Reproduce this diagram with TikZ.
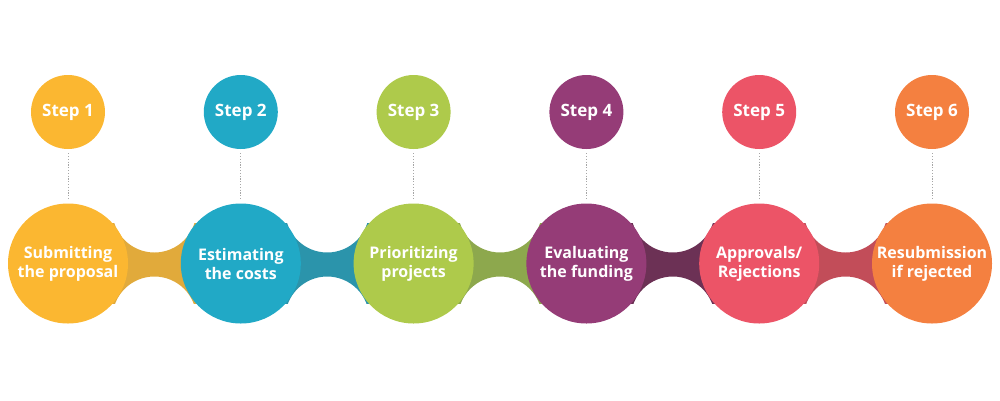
\documentclass[tikz,border=0pt]{standalone}
\usepackage{fontspec}
\setmainfont{Open Sans}
\definecolor{cA}{HTML}{FBB731}\definecolor{kA}{HTML}{E1AA3B}
\definecolor{cB}{HTML}{21A9C6}\definecolor{kB}{HTML}{2B94AB}
\definecolor{cC}{HTML}{AECA4B}\definecolor{kC}{HTML}{8DA84D}
\definecolor{cD}{HTML}{953C77}\definecolor{kD}{HTML}{6C3155}
\definecolor{cE}{HTML}{EC5467}\definecolor{kE}{HTML}{C24D59}
\definecolor{cF}{HTML}{F48040}
\tikzset{
  bigcirc/.style={circle,minimum size=120pt,inner sep=0pt,text=white,align=center,
    font=\fontsize{16}{19}\selectfont\bfseries},
  stepcirc/.style={circle,minimum size=74pt,inner sep=0pt,text=white,
    font=\fontsize{17}{20}\selectfont\bfseries},
  dotline/.style={draw=gray!70,line width=0.9pt,dash pattern=on 1.2pt off 1.6pt}
}
\begin{document}
\begin{tikzpicture}[x=1pt,y=-1pt]
\useasboundingbox (0,0) rectangle (1000,400);
\def\cy{263.5}
% connectors (bands with concave sides)
\foreach \i/\col in {0/kA,1/kB,2/kC,3/kD,4/kE}{
  \pgfmathsetmacro{\xa}{68+172.8*\i}
  \pgfmathsetmacro{\xm}{\xa+86.4}
  \begin{scope}
    \clip (\xa+30,\cy-40) rectangle (\xa+142.8,\cy+40);
    \fill[\col,even odd rule] (\xa+20,\cy-60) rectangle (\xa+152.8,\cy+60)
      (\xm,\cy-11-42) circle[radius=42] (\xm,\cy+13+42) circle[radius=42];
  \end{scope}
}
\foreach \i/\col/\txt [count=\n] in {
  0/cA/{Submitting\\the proposal},
  1/cB/{Estimating\\the costs},
  2/cC/{Prioritizing\\projects},
  3/cD/{Evaluating\\the funding},
  4/cE/{Approvals/\\Rejections},
  5/cF/{Resubmission\\if rejected}}{
  \pgfmathsetmacro{\xx}{68+172.8*\i}
  \node[bigcirc,fill=\col] (b\n) at (\xx,\cy) {\txt};
  \node[stepcirc,fill=\col] (s\n) at (\xx,112) {Step \n};
  \draw[dotline] ([yshift=-4pt]s\n.south) -- ([yshift=4pt]b\n.north);
}
\end{tikzpicture}
\end{document}
